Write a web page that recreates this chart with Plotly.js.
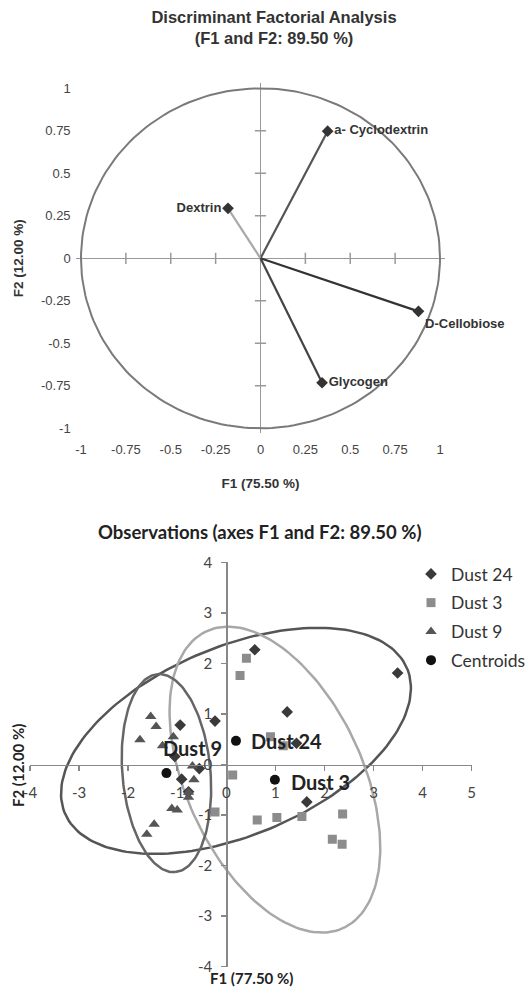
<!DOCTYPE html>
<html>
<head>
<meta charset="utf-8">
<script src="https://cdn.plot.ly/plotly-3.0.1.min.js"></script>
<style>html,body{margin:0;padding:0;background:#fff;}#chart{width:528px;height:992px;}</style>
</head>
<body>
<div id="chart"></div>
<script>
// ---------- Top chart: correlation circle ----------
const varNames = ['a- Cyclodextrin', 'Dextrin', 'D-Cellobiose', 'Glycogen'];
const varF1 = [0.374, -0.181, 0.88, 0.343];
const varF2 = [0.748, 0.294, -0.312, -0.732];
const circleTicks = [-1, -0.75, -0.5, -0.25, 0, 0.25, 0.5, 0.75, 1];

// ---------- Bottom chart: observations ----------
const dust24F1 = [0.58, 3.49, 1.24, -0.23, -0.94, 1.43, -1.05, -0.55, -0.91, -0.77, 1.64];
const dust24F2 = [2.27, 1.81, 1.04, 0.86, 0.78, 0.42, 0.16, -0.08, -0.29, -0.54, -0.74];
const dust3F1 = [0.41, 0.28, 0.90, 1.16, 0.13, -0.23, 0.63, 1.03, 1.54, 2.37, 2.16, 2.36];
const dust3F2 = [2.10, 1.76, 0.55, 0.37, -0.21, -0.94, -1.10, -1.05, -1.03, -0.98, -1.48, -1.58];
const dust9F1 = [-1.54, -1.43, -1.76, -1.08, -1.30, -0.69, -0.66, -0.77, -0.77, -1.11, -1.00, -1.47, -1.62];
const dust9F2 = [0.95, 0.75, 0.49, 0.55, 0.37, -0.03, -0.30, -0.55, -0.65, -0.87, -0.90, -1.18, -1.38];
const centroidNames = ['Dust 24', 'Dust 3', 'Dust 9'];
const centroidF1 = [0.197, 0.99, -1.22];
const centroidF2 = [0.468, -0.30, -0.17];
// confidence ellipse parameters (semi-major, semi-minor, angle in degrees)
const ellipseA = [3.77, 3.25, 1.966];
const ellipseB = [1.87, 1.79, 0.897];
const ellipseAngle = [22, -64.1, -84.7];
const obsXTicks = [-4, -3, -2, -1, 0, 1, 2, 3, 4, 5];
const obsYTicks = [-4, -3, -2, -1, 0, 1, 2, 3, 4];

// ---------- styles ----------
const arial = 'Liberation Sans, Arial, sans-serif';
const calib = 'Lato, Open Sans, sans-serif';
const varLineColors = ['#555', '#aaa', '#333', '#444'];
const varTextPos = ['middle right', 'middle left', 'bottom right', 'middle right'];
const ellipseColors = ['#555', '#a8a8a8', '#666'];
const centroidLabelShiftX = [13, 14, -5];
const centroidLabelShiftY = [0, -2, 25];

const traces = [];

// circle
const circN = 200;
const cx = [], cy = [];
for (let i = 0; i <= circN; i++) { const t = 2 * Math.PI * i / circN; cx.push(Math.cos(t)); cy.push(Math.sin(t)); }
traces.push({x: cx, y: cy, xaxis: 'x', yaxis: 'y', mode: 'lines', line: {color: '#7a7a7a', width: 2}, showlegend: false, hoverinfo: 'skip'});

// tick marks on the zero lines
const innerTicks = circleTicks.filter(v => v !== 0 && Math.abs(v) !== 1);
traces.push({x: innerTicks, y: innerTicks.map(() => 0), xaxis: 'x', yaxis: 'y', mode: 'markers',
  marker: {symbol: 'line-ns', size: 8, line: {width: 1.5, color: '#999'}}, showlegend: false, hoverinfo: 'skip'});
traces.push({x: innerTicks.map(() => 0), y: innerTicks, xaxis: 'x', yaxis: 'y', mode: 'markers',
  marker: {symbol: 'line-ew', size: 8, line: {width: 1.5, color: '#999'}}, showlegend: false, hoverinfo: 'skip'});

// vectors
varNames.forEach((n, i) => {
  traces.push({x: [0, varF1[i]], y: [0, varF2[i]], xaxis: 'x', yaxis: 'y', mode: 'lines',
    line: {color: varLineColors[i], width: 2.2}, showlegend: false, hoverinfo: 'skip'});
});
traces.push({x: varF1, y: varF2, text: varNames.map(s => '<b>' + s + '</b>'), xaxis: 'x', yaxis: 'y',
  mode: 'markers+text', textposition: varTextPos, cliponaxis: false,
  textfont: {family: arial, size: 13, color: '#333'},
  marker: {symbol: 'diamond', size: 9, color: '#333'}, showlegend: false, hoverinfo: 'skip'});

// ellipses
centroidF1.forEach((c, k) => {
  const ex = [], ey = [];
  const th = ellipseAngle[k] * Math.PI / 180;
  const N = 180;
  for (let i = 0; i <= N; i++) {
    const t = 2 * Math.PI * i / N;
    ex.push(c + ellipseA[k] * Math.cos(th) * Math.cos(t) - ellipseB[k] * Math.sin(th) * Math.sin(t));
    ey.push(centroidF2[k] + ellipseA[k] * Math.sin(th) * Math.cos(t) + ellipseB[k] * Math.cos(th) * Math.sin(t));
  }
  traces.push({x: ex, y: ey, xaxis: 'x2', yaxis: 'y2', mode: 'lines', line: {color: ellipseColors[k], width: 2.5},
    showlegend: false, hoverinfo: 'skip'});
});

traces.push({x: dust24F1, y: dust24F2, name: 'Dust 24', legendgroup: 'a', xaxis: 'x2', yaxis: 'y2', mode: 'markers',
  marker: {symbol: 'diamond', size: 9, color: '#3a3a3a'}});
traces.push({x: dust3F1, y: dust3F2, name: 'Dust 3', legendgroup: 'b', xaxis: 'x2', yaxis: 'y2', mode: 'markers',
  marker: {symbol: 'square', size: 9, color: '#8c8c8c'}});
traces.push({x: dust9F1, y: dust9F2, name: 'Dust 9', legendgroup: 'c', xaxis: 'x2', yaxis: 'y2', mode: 'markers',
  marker: {symbol: 'triangle-up', size: 10, color: '#555'}});
traces.push({x: centroidF1, y: centroidF2, name: 'Centroids', legendgroup: 'd', xaxis: 'x2', yaxis: 'y2', mode: 'markers',
  marker: {symbol: 'circle', size: 10, color: '#111'}});

const centroidAnnotations = centroidNames.map((n, k) => ({
  text: '<b>' + n + '</b>', xref: 'x2', yref: 'y2', x: centroidF1[k], y: centroidF2[k],
  xanchor: 'left', yanchor: 'middle', xshift: centroidLabelShiftX[k], yshift: centroidLabelShiftY[k],
  showarrow: false, font: {family: calib, size: 20, color: '#222'}
}));

const W = 528, H = 992;
const topL = 81 - 0.03 * 179.5, topR = 440 + 0.03 * 179.5;
const topT = 88.3 - 0.03 * 170, topB = 428.3 + 0.03 * 170;
const botL = 30, botR = 471.7, botT = 562.3, botB = 966.7;
const botYdom = [1 - botB / H, 1 - botT / H];
const botXdom = [botL / W, botR / W];

const layout = {
  width: W, height: H,
  margin: {l: 0, r: 0, t: 0, b: 0, autoexpand: false},
  paper_bgcolor: '#fff', plot_bgcolor: 'rgba(0,0,0,0)',
  title: {text: '<b>Discriminant Factorial Analysis<br>(F1 and F2: 89.50 %)</b>', x: 274 / W, xanchor: 'center',
    y: 1 - 23 / H, yanchor: 'middle', font: {family: arial, size: 16.5, color: '#333'}},
  xaxis: {domain: [topL / W, topR / W], range: [-1.03, 1.03], anchor: 'y', showgrid: false, showline: false,
    zeroline: true, zerolinecolor: '#999', zerolinewidth: 1.5, ticks: '', tickvals: circleTicks,
    ticktext: circleTicks.map(String), tickfont: {family: arial, size: 13, color: '#444'}, ticklabelstandoff: 7,
    automargin: false,
    title: {text: '<b>F1 (75.50 %)</b>', font: {family: arial, size: 13.5, color: '#333'}, standoff: 22}},
  yaxis: {domain: [1 - topB / H, 1 - topT / H], range: [-1.03, 1.03], anchor: 'x', showgrid: false, showline: false,
    zeroline: true, zerolinecolor: '#999', zerolinewidth: 1.5, ticks: '', tickvals: circleTicks,
    ticktext: circleTicks.map(String), tickfont: {family: arial, size: 13, color: '#444'}, ticklabelstandoff: 4,
    automargin: false,
    title: {text: '<b>F2 (12.00 %)</b>', font: {family: arial, size: 13.5, color: '#333'}, standoff: 14}},
  xaxis2: {domain: botXdom, range: [-4, 5], anchor: 'free', position: (botYdom[0] + botYdom[1]) / 2,
    showgrid: false, zeroline: false, showline: true, linecolor: '#888', linewidth: 1.5, automargin: false,
    ticks: 'outside', ticklen: 5, tickwidth: 1.5, tickcolor: '#888', tickvals: obsXTicks, ticktext: obsXTicks.map(String),
    tickfont: {family: calib, size: 15, color: '#444'}, ticklabelstandoff: 9},
  yaxis2: {domain: botYdom, range: [-4, 4], anchor: 'free', position: botXdom[0] + (botXdom[1] - botXdom[0]) * 4 / 9,
    showgrid: false, zeroline: false, showline: true, linecolor: '#888', linewidth: 1.5, automargin: false,
    ticks: 'outside', ticklen: 5, tickwidth: 1.5, tickcolor: '#888', tickvals: obsYTicks, ticktext: obsYTicks.map(String),
    tickfont: {family: calib, size: 15, color: '#444'}, ticklabelstandoff: 6},
  legend: {x: 411 / W, xanchor: 'left', y: 1 - 556 / H, yanchor: 'top', font: {family: calib, size: 17.5, color: '#333'},
    bgcolor: 'rgba(0,0,0,0)', tracegroupgap: 3, traceorder: 'grouped'},
  annotations: [
    {text: '<b>Observations (axes F1 and F2: 89.50 %)</b>', xref: 'paper', yref: 'paper', x: 259 / W, y: 1 - 532 / H,
      xanchor: 'center', yanchor: 'middle', showarrow: false, font: {family: calib, size: 18.5, color: '#222'}},
    {text: '<b>F1 (77.50 %)</b>', xref: 'paper', yref: 'paper', x: 251 / W, y: 1 - 978 / H,
      xanchor: 'center', yanchor: 'middle', showarrow: false, font: {family: calib, size: 15, color: '#222'}},
    {text: '<b>F2 (12.00 %)</b>', xref: 'paper', yref: 'paper', x: 18 / W, y: 1 - 766 / H, textangle: -90,
      xanchor: 'center', yanchor: 'middle', showarrow: false, font: {family: calib, size: 15, color: '#222'}}
  ].concat(centroidAnnotations),
  showlegend: true
};

Plotly.newPlot('chart', traces, layout, {displayModeBar: false, staticPlot: true});
</script>
</body>
</html>
